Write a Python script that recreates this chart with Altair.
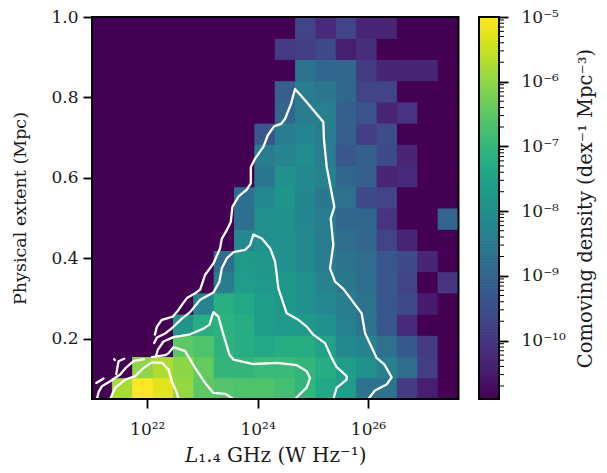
import altair as alt
import pandas as pd

BG = -10.9
X_MIN, X_MAX = 21.0, 27.64
Y_MIN, Y_MAX = 0.05, 1.0
N_BINS = 18

# log10 comoving density per cell; first list = lowest extent bin
log_density = [
    [BG, -5.77, -5.0, -5.24, -5.94, -6.48, -6.59, -6.65, -6.65, -6.77, -7.01, -7.36, -7.66, -8.66, -8.66, -9.9, -10.43, BG],
    [BG, BG, -6.0, -5.71, -6.0, -6.42, -7.01, -7.01, -6.89, -6.89, -7.01, -7.24, -7.66, -7.95, -8.36, -8.84, -9.84, BG],
    [BG, BG, BG, BG, -6.48, -6.65, -7.07, -7.24, -7.36, -7.24, -7.24, -7.48, -8.13, -8.3, -8.72, -9.25, -9.9, BG],
    [BG, BG, BG, BG, -7.83, -7.24, -7.12, -7.24, -7.66, -7.71, -7.71, -7.95, -8.36, -8.66, -9.31, -10.19, BG, BG],
    [BG, BG, BG, BG, BG, -8.25, -7.18, -7.36, -7.66, -7.77, -7.95, -8.13, -8.42, -8.66, -9.31, -9.6, -10.49, BG],
    [BG, BG, BG, BG, BG, BG, -8.42, -7.66, -7.71, -7.77, -7.95, -8.3, -8.54, -8.78, -9.31, -9.72, BG, -10.02],
    [BG, BG, BG, BG, BG, BG, -8.84, -7.71, -7.77, -7.95, -8.13, -8.42, -8.66, -8.84, -9.31, -9.6, -10.31, BG],
    [BG, BG, BG, BG, BG, BG, BG, -8.13, -7.95, -7.95, -8.13, -8.42, -8.84, -8.95, -9.72, -10.31, BG, BG],
    [BG, BG, BG, BG, BG, BG, BG, -8.78, -7.95, -7.95, -8.19, -8.42, -8.95, -8.95, -10.02, BG, BG, -8.95],
    [BG, BG, BG, BG, BG, BG, BG, -8.78, -8.13, -7.83, -8.19, -8.54, -8.72, -9.6, -9.72, BG, BG, BG],
    [BG, BG, BG, BG, BG, BG, BG, BG, -8.54, -7.95, -8.13, -8.3, -8.95, -9.13, -10.31, -10.19, BG, BG],
    [BG, BG, BG, BG, BG, BG, BG, BG, -8.42, -8.25, -8.07, -8.42, -9.31, -9.13, -9.6, -10.31, BG, BG],
    [BG, BG, BG, BG, BG, BG, BG, BG, -9.31, -8.42, -8.19, -8.42, -9.13, -9.84, -9.54, BG, BG, BG],
    [BG, BG, BG, BG, BG, BG, BG, BG, BG, -8.95, -8.42, -8.36, -9.13, -9.43, -10.31, -10.02, BG, BG],
    [BG, BG, BG, BG, BG, BG, BG, BG, BG, -9.13, -8.42, -8.54, -8.95, -9.72, -9.72, BG, BG, BG],
    [BG, BG, BG, BG, BG, BG, BG, BG, BG, BG, -8.66, -8.95, -8.95, -9.9, -10.31, -10.31, -10.31, BG],
    [BG, BG, BG, BG, BG, BG, BG, BG, BG, -9.9, -9.84, -9.6, -10.43, -10.13, BG, BG, BG, BG],
    [BG, BG, BG, BG, BG, BG, BG, BG, BG, BG, -9.72, -10.19, -9.72, -10.31, -10.31, BG, BG, BG],
]

# white contour pieces: (log10 luminosity, extent)
contour_a = [(26.005,0.05),(26.127,0.071),(26.338,0.086),(26.429,0.104),(26.295,0.136),(26.157,0.152),(25.946,0.214),(25.886,0.263),(25.553,0.324),(25.403,0.342),(25.312,0.375),(25.372,0.433),(25.325,0.499),(25.39,0.528),(25.252,0.627),(25.204,0.693),(25.191,0.739),(24.86,0.793),(24.679,0.821),(24.606,0.784),(24.498,0.747),(24.425,0.734),(24.299,0.728),(24.185,0.706),(24.105,0.677),(23.955,0.648),(23.877,0.627),(23.877,0.586),(23.805,0.571),(23.652,0.553),(23.544,0.528),(23.515,0.491),(23.443,0.47),(23.352,0.449),(23.321,0.425),(23.2,0.387),(23.05,0.359),(22.959,0.322),(22.869,0.313),(22.719,0.301),(22.628,0.284),(22.548,0.268),(22.465,0.255),(22.266,0.247),(22.176,0.23),(22.139,0.21)]
contour_a2 = [(21.584,0.15),(21.481,0.144),(21.439,0.112)]
contour_a3 = [(21.40,0.149),(21.415,0.147)]
contour_a4 = [(21.209,0.101),(21.077,0.09)]
contour_b = [(25.372,0.05),(25.433,0.078),(25.614,0.098),(25.614,0.107),(25.433,0.129),(25.343,0.152),(25.222,0.189),(25.01,0.21),(24.891,0.23),(24.738,0.247),(24.528,0.263),(24.376,0.325),(24.317,0.392),(24.226,0.425),(24.076,0.449),(23.924,0.459),(23.864,0.433),(23.774,0.421),(23.562,0.415),(23.443,0.4),(23.352,0.375),(23.309,0.342),(23.2,0.315),(22.959,0.297),(22.778,0.266),(22.628,0.25),(22.447,0.226),(22.326,0.213),(22.176,0.203),(22.127,0.189)]
contour_c = [(24.679,0.05),(24.891,0.079),(24.95,0.102),(24.891,0.119),(24.709,0.134),(24.347,0.14),(23.924,0.137),(23.562,0.148),(23.49,0.16),(23.381,0.21),(23.29,0.255),(23.2,0.266),(23.128,0.235),(23.019,0.225),(22.778,0.211),(22.476,0.204),(22.295,0.193),(22.194,0.173),(22.157,0.156)]
contour_c2 = [(21.94,0.149),(21.752,0.144),(21.602,0.126),(21.511,0.111),(21.33,0.094),(21.18,0.082),(21.119,0.067),(21.09,0.05)]
contour_d = [(23.562,0.05),(23.412,0.063),(23.2,0.065),(23.05,0.09),(22.869,0.127),(22.688,0.169),(22.476,0.179),(22.386,0.164),(22.326,0.159),(22.085,0.154)]
contour_e = [(21.33,0.05),(21.421,0.078),(21.602,0.098),(21.783,0.107),(21.933,0.127),(22.085,0.141),(22.266,0.14),(22.386,0.123),(22.447,0.094),(22.538,0.065),(22.567,0.05)]
contours = [contour_a, contour_a2, contour_a3, contour_a4, contour_b, contour_c, contour_c2, contour_d, contour_e]

x_ticks = [1e22, 1e24, 1e26]
y_ticks = [0.2, 0.4, 0.6, 0.8, 1.0]
cbar_ticks = [1e-10, 1e-9, 1e-8, 1e-7, 1e-6, 1e-5]
x_title = "𝐿₁.₄ GHz (W Hz⁻¹)"
y_title = "Physical extent (Mpc)"
cbar_title = "Comoving density (dex⁻¹ Mpc⁻³)"

W, H = 366.5, 382
FONT = "DejaVu Serif"
INK = "#1a1a1a"
FS = 17

bin_w = (X_MAX - X_MIN) / N_BINS
bin_h = (Y_MAX - Y_MIN) / N_BINS
cells = []
for j, row in enumerate(log_density):
    for i, v in enumerate(row):
        cells.append({
            "x": 10 ** (X_MIN + i * bin_w), "x2": 10 ** (X_MIN + (i + 1) * bin_w),
            "y": Y_MIN + j * bin_h, "y2": Y_MIN + (j + 1) * bin_h,
            "density": 10 ** v,
        })
cells = pd.DataFrame(cells)

lines = pd.DataFrame([
    {"seg": k, "ord": n, "L": 10 ** p[0], "ext": p[1]}
    for k, seg in enumerate(contours) for n, p in enumerate(seg)
])

D_MIN, D_MAX = 10 ** BG, 1e-5
color_scale = alt.Scale(type="log", domain=[D_MIN, D_MAX], scheme="viridis")
x_scale = alt.Scale(type="log", domain=[10 ** X_MIN, 10 ** X_MAX], nice=False)
y_scale = alt.Scale(domain=[Y_MIN, Y_MAX], nice=False, zero=False)

x_axis = alt.Axis(values=x_ticks, title=x_title, grid=False, titleFontSize=20,
                  labelExpr="datum.value < 1e23 ? '10²²' : datum.value < 1e25 ? '10²⁴' : '10²⁶'",
                  labelFlush=False, labelOverlap=False, labelPadding=13, titlePadding=8)
y_axis = alt.Axis(values=y_ticks, title=y_title, grid=False, format=".1f", labelPadding=5, titlePadding=21, titleFontSize=17.5)

heat = alt.Chart(cells).mark_rect(strokeWidth=1).encode(
    x=alt.X("x:Q", scale=x_scale, axis=x_axis),
    x2="x2:Q",
    y=alt.Y("y:Q", scale=y_scale, axis=y_axis),
    y2="y2:Q",
    color=alt.Color("density:Q", scale=color_scale, legend=None),
    stroke=alt.Color("density:Q", scale=color_scale, legend=None),
)
contour_layer = alt.Chart(lines).mark_line(color="white", strokeWidth=2.3, clip=True, strokeCap="round", strokeJoin="round").encode(
    x=alt.X("L:Q", scale=x_scale),
    y=alt.Y("ext:Q", scale=y_scale),
    detail="seg:N",
    order="ord:Q",
)
frame = alt.Chart(pd.DataFrame({"a": [0]})).mark_rect(fillOpacity=0, stroke="black", strokeWidth=2).encode(
    x=alt.value(0), x2=alt.value(W), y=alt.value(0), y2=alt.value(H)
)
main = alt.layer(heat, contour_layer, frame).properties(width=W, height=H)

# colour bar
STEPS = 256
ramp = pd.DataFrame([
    {"y": 10 ** (BG + (-5 - BG) * n / STEPS), "y2": 10 ** (BG + (-5 - BG) * (n + 1) / STEPS),
     "c": 10 ** (BG + (-5 - BG) * (n + 0.5) / STEPS)}
    for n in range(STEPS)
])
minor = pd.DataFrame({"v": [m * 10.0 ** e for e in range(-11, -5) for m in range(2, 10)
                            if D_MIN < m * 10.0 ** e < D_MAX]})
CW = 20
cb_scale = alt.Scale(type="log", domain=[D_MIN, D_MAX], nice=False)
cb_axis = alt.Axis(orient="right", values=cbar_ticks, title=cbar_title, grid=False,
                   labelExpr="['10⁻¹⁰','10⁻⁹','10⁻⁸','10⁻⁷','10⁻⁶','10⁻⁵'][round(log(datum.value)/LN10)+10]",
                   labelPadding=13, titlePadding=30, titleAngle=270, labelOverlap=False, labelFlush=False,
                   titleFontSize=19.5)
bar = alt.Chart(ramp).mark_rect(strokeWidth=1).encode(
    x=alt.value(0), x2=alt.value(CW),
    y=alt.Y("y:Q", scale=cb_scale, axis=cb_axis),
    y2="y2:Q",
    color=alt.Color("c:Q", scale=color_scale, legend=None),
    stroke=alt.Color("c:Q", scale=color_scale, legend=None),
)
minor_ticks = alt.Chart(minor).mark_rule(color="black", strokeWidth=1).encode(
    x=alt.value(CW), x2=alt.value(CW + 5),
    y=alt.Y("v:Q", scale=cb_scale, axis=cb_axis),
)
cb_frame = alt.Chart(pd.DataFrame({"a": [0]})).mark_rect(fillOpacity=0, stroke="black", strokeWidth=2).encode(
    x=alt.value(0), x2=alt.value(CW), y=alt.value(0), y2=alt.value(H)
)
cbar = alt.layer(bar, minor_ticks, cb_frame).properties(width=CW, height=H)

chart = alt.hconcat(main, cbar, spacing=18).configure_view(stroke=None).configure_axis(
    labelFont=FONT, titleFont=FONT, labelFontSize=FS, titleFontSize=FS,
    labelColor=INK, titleColor=INK, titleFontWeight="normal",
    domain=False, tickColor="black", tickWidth=1.8, tickSize=9,
).properties(background="white", padding={"left": 3, "top": 0, "right": 3, "bottom": 0})

chart.save("out.html", embed_options={"renderer": "svg", "actions": False})
